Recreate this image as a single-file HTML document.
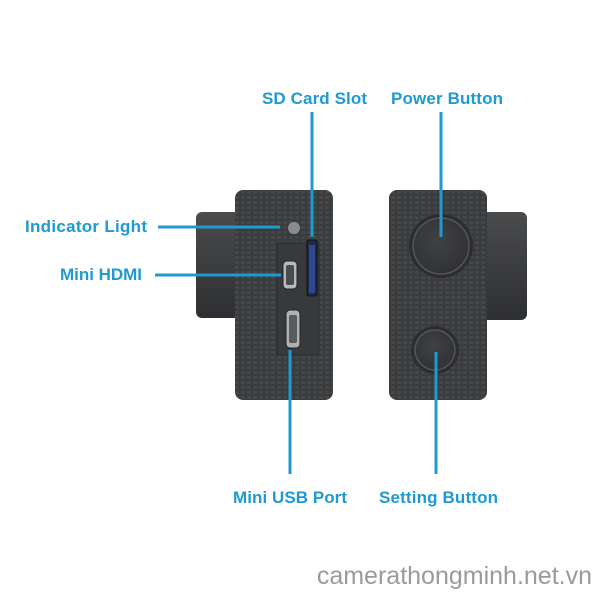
<!DOCTYPE html>
<html><head><style>
body{margin:0;background:#fff;}
svg{display:block}
.l{font-family:"Liberation Sans",sans-serif;font-weight:bold;font-size:17px;fill:#1e9ad0}
</style></head><body>
<svg width="600" height="600" viewBox="0 0 600 600">
<defs>
<pattern id="tx" width="6" height="5" patternUnits="userSpaceOnUse">
<rect width="6" height="5" fill="#3a3b3d"/><rect x="1" y="1" width="4" height="3" fill="#454648"/>
</pattern>
<linearGradient id="ln" x1="0" y1="0" x2="0" y2="1"><stop offset="0" stop-color="#4a4b4d"/><stop offset="0.5" stop-color="#3c3d3f"/><stop offset="1" stop-color="#2e2f31"/></linearGradient>
<radialGradient id="bt" cx="0.45" cy="0.4" r="0.6"><stop offset="0" stop-color="#404143"/><stop offset="1" stop-color="#313234"/></radialGradient>
</defs>
<rect x="196" y="212" width="45" height="106" rx="6" fill="url(#ln)"/>
<rect x="235" y="190" width="98" height="210" rx="8" fill="url(#tx)"/>
<rect x="277" y="243" width="42" height="112" rx="2" fill="#38393b" stroke="#2a2b2c"/>
<circle cx="294" cy="228" r="6" fill="#8a8b8d"/>
<rect x="307" y="240" width="10" height="56" rx="2" fill="#1f2a4a" stroke="#111"/>
<rect x="309" y="245" width="6" height="48" fill="#2d4a8f"/>
<rect x="283" y="261" width="14" height="28" rx="4" fill="#b8b9bb" stroke="#222"/>
<rect x="286" y="265" width="8" height="20" rx="2" fill="#4a4b4d"/>
<rect x="286" y="310" width="14" height="38" rx="4" fill="#b0b1b3" stroke="#222"/>
<rect x="289" y="315" width="8" height="28" rx="2" fill="#5a5b5d"/>
<rect x="480" y="212" width="47" height="108" rx="6" fill="url(#ln)"/>
<rect x="389" y="190" width="98" height="210" rx="8" fill="url(#tx)"/>
<circle cx="441" cy="246" r="32" fill="#2c2d2f"/>
<circle cx="441" cy="246" r="28" fill="url(#bt)" stroke="#555" stroke-width="1.5"/>
<circle cx="435" cy="350" r="24" fill="#2c2d2f"/>
<circle cx="435" cy="350" r="20" fill="url(#bt)" stroke="#555" stroke-width="1.5"/>
<g stroke="#1e9ad0" stroke-width="3">
<line x1="158" y1="227" x2="280" y2="227"/>
<line x1="155" y1="275" x2="281" y2="275"/>
<line x1="312" y1="112" x2="312" y2="237"/>
<line x1="441" y1="112" x2="441" y2="237"/>
<line x1="290" y1="350" x2="290" y2="474"/>
<line x1="436" y1="352" x2="436" y2="474"/>
</g>
<text class="l" x="262" y="104" textLength="105">SD Card Slot</text>
<text class="l" x="391" y="104" textLength="112">Power Button</text>
<text class="l" x="25" y="232" textLength="122">Indicator Light</text>
<text class="l" x="60" y="280" textLength="82">Mini HDMI</text>
<text class="l" x="233" y="503" textLength="114">Mini USB Port</text>
<text class="l" x="379" y="503" textLength="119">Setting Button</text>
<text x="592" y="584" text-anchor="end" font-family="Liberation Sans,sans-serif" font-size="25" fill="#9a9a9a">camerathongminh.net.vn</text>
</svg>
</body></html>
